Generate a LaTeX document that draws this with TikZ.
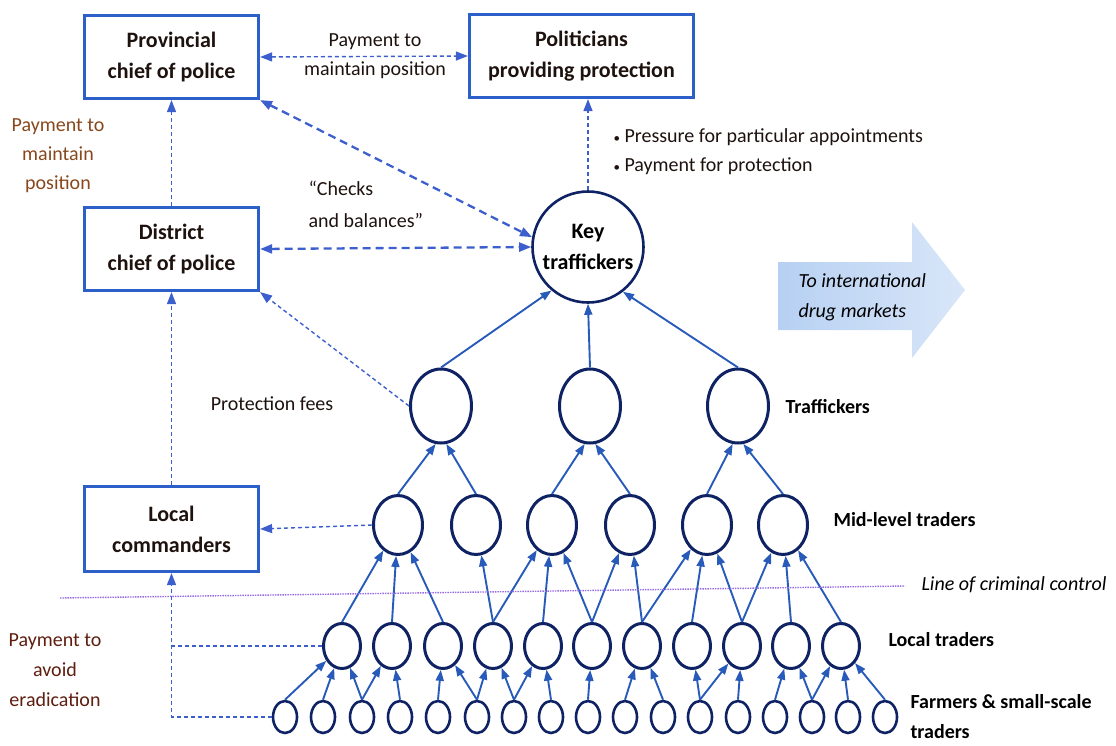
\documentclass[tikz,border=0pt]{standalone}
\usepackage{fontspec}
\setmainfont{Carlito}
\usetikzlibrary{shapes.geometric,arrows.meta,positioning,calc}
\definecolor{boxblue}{RGB}{45,95,200}
\definecolor{navy}{RGB}{15,35,100}
\definecolor{linkblue}{RGB}{40,90,185}
\definecolor{dashblue}{RGB}{60,95,205}
\definecolor{ctrlpurple}{RGB}{150,110,225}
\definecolor{paybrown}{RGB}{135,72,28}
\definecolor{payred}{RGB}{95,30,15}
\definecolor{markblue}{RGB}{170,200,240}
\definecolor{textdark}{RGB}{30,18,14}

\begin{document}
\begin{tikzpicture}[x=1pt, y=-1pt,
    office/.style={rectangle, draw=boxblue, line width=3.2pt, minimum width=174pt,
        minimum height=83pt, align=center, text=textdark,
        font=\fontsize{22}{31}\selectfont\bfseries},
    trader/.style={ellipse, draw=navy, line width=3pt, inner sep=0pt},
    link/.style={-{Triangle[length=11pt,width=8pt]}, draw=linkblue, line width=1.9pt},
    thinpay/.style={draw=dashblue, line width=1.4pt, dash pattern=on 4pt off 3pt},
    boldpay/.style={draw=dashblue, line width=2.3pt, dash pattern=on 8pt off 5pt},
    tipp/.style={-{Triangle[length=12pt,width=9pt]}},
    dbl/.style={{Triangle[length=12pt,width=9pt]}-{Triangle[length=12pt,width=9pt]}},
    note/.style={font=\fontsize{20}{29}\selectfont, text=textdark, align=center},
    level/.style={anchor=west, text=black, align=left,
        font=\fontsize{20}{32}\selectfont\bfseries}
]
\useasboundingbox (0,0) rectangle (1116,745);

% offices
\node[office] (prov) at (171.5,57) {Provincial\\chief of police};
\node[office, minimum width=224pt] (pol) at (581.5,56) {Politicians\\providing protection};
\node[office] (dist) at (171.5,249) {District\\chief of police};
\node[office, minimum height=85pt] (lcom) at (171.5,529) {Local\\commanders};

% trading pyramid
\node[trader, circle, minimum size=111pt, line width=2.6pt, align=center,
    font=\fontsize{22}{31}\selectfont\bfseries] (key) at (588,247) {Key\\traffickers};
\foreach \i/\x in {1/441,2/590,3/738}
    \node[trader, minimum width=61pt, minimum height=74pt] (t\i) at (\x,406) {};
\foreach \i/\x in {1/398,2/476,3/552,4/630,5/707,6/783}
    \node[trader, minimum width=49pt, minimum height=59pt] (m\i) at (\x,525) {};
\foreach \i/\x in {1/342,2/392,3/443,4/493,5/543,6/592,7/642,8/692,9/742,10/791,11/841}
    \node[trader, minimum width=37pt, minimum height=45pt] (l\i) at (\x,646) {};
\foreach \i/\x in {1/285,2/323,3/362,4/400,5/438,6/477,7/514,8/551,9/588,10/625,
        11/663,12/700,13/738,14/775,15/812,16/848,17/885}
    \node[trader, minimum width=24pt, minimum height=32pt, line width=2.6pt] (f\i) at (\x,717) {};

% flows upward
\foreach \a/\b in {1/1,2/1,3/1,3/2,4/2,5/3,6/3,6/4,7/4,7/5,8/5,9/6,10/7,11/7,
        12/8,12/9,13/9,14/10,15/10,15/11,16/11,17/11}
    \draw[link] (f\a.north) -- (l\b);
\foreach \a/\b in {1/1,2/1,3/1,4/2,4/3,5/3,6/3,6/4,7/4,7/5,8/5,9/5,9/6,10/6,11/6}
    \draw[link] (l\a.north) -- (m\b);
\foreach \a/\b/\t in {1/1/-98,2/1/-82,3/2/-98,4/2/-82,5/3/-98,6/3/-82}
    \draw[link] (m\a.north) -- (t\b.\t);
\draw[link] (t1.north) -- (key.-130);
\draw[link] (t2.north) -- (key.south);
\draw[link] (t3.north) -- (key.-52);

% payments and protection
\draw[thinpay, dbl] (prov.east) -- (pol.west);
\draw[thinpay, tipp] (dist.north) -- (prov.south);
\draw[thinpay, tipp] (lcom.north) -- (dist.south);
\draw[boldpay, dbl] (prov.south east) -- (key.170);
\draw[boldpay, dbl] (dist.east) -- (key.west);
\draw[thinpay, tipp] (t1.west) -- (dist.south east);
\draw[thinpay, tipp] (key.north) -- (key.north |- pol.south);
\draw[thinpay, tipp] (m1.west) -- (lcom.east);
\draw[thinpay] (l1.west) -- (l1.west -| lcom.south);
\draw[thinpay, tipp] (f1.west) -| (lcom.south);

% line of criminal control
\draw[draw=ctrlpurple, line width=1.4pt, dash pattern=on 1.5pt off 1pt] (60,598) -- (905,586);

% export arrow
\shade[left color=markblue!85, right color=markblue!45] (778,262) -- (912,262) -- (912,222)
    -- (965,290) -- (912,358) -- (912,330) -- (778,330) -- cycle;
\node[anchor=west, align=left, text=black,
    font=\fontsize{20}{30}\selectfont\itshape] (market) at (795,297) {To international\\drug markets};

% labels
\node[note] (paypos) at (375,56) {Payment to\\maintain position};
\node[note, text=paybrown] (payup) at (58,156) {Payment to\\maintain\\position};
\node[note, align=left, anchor=west, font=\fontsize{20}{32}\selectfont] (checks) at (305,204) {“Checks\\and balances”};
\node[note] (fees) at (272,404) {Protection fees};
\node[note, align=left, anchor=west] (press) at (610,152)
    {{\fontsize{13}{13}\selectfont•} Pressure for particular appointments\\{\fontsize{13}{13}\selectfont•} Payment for protection};
\node[note, text=payred, font=\fontsize{20}{30}\selectfont] (payerad) at (55,670) {Payment to\\avoid\\eradication};
\node[level] (lbtraf) at (782,407) {Traffickers};
\node[level] (lbmid) at (830,520) {Mid-level traders};
\node[level, font=\fontsize{20}{30}\selectfont\itshape] (lbline) at (918,585) {Line of criminal control};
\node[level] (lblocal) at (885,640) {Local traders};
\node[level, font=\fontsize{20}{30}\selectfont\bfseries] (lbfarm) at (907,717) {Farmers \& small-scale\\traders};
\end{tikzpicture}
\end{document}
